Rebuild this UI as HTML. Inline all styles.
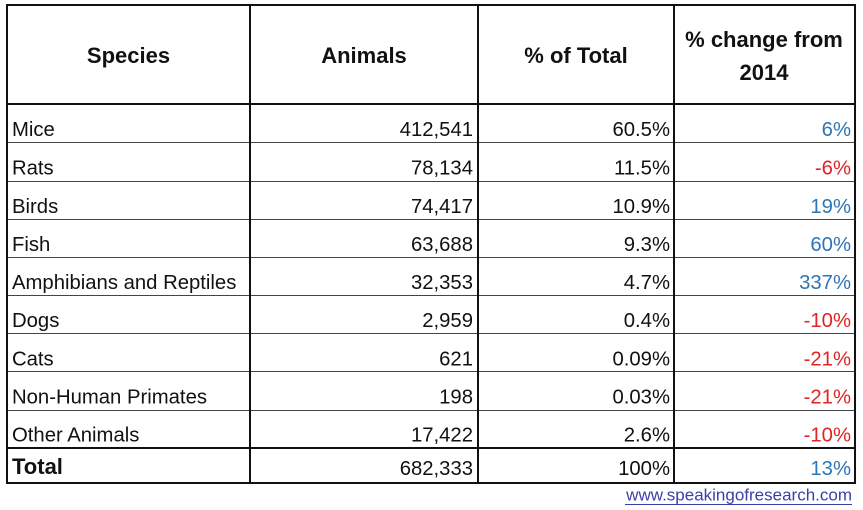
<!DOCTYPE html>
<html>
<head>
<meta charset="utf-8">
<style>
  html, body { margin: 0; padding: 0; background: #fff; }
  body { width: 863px; height: 510px; overflow: hidden; }
  svg { display: block; }
  text { font-family: "Liberation Sans", Arial, sans-serif; fill: #111; }
  .h { font-weight: bold; font-size: 22px; text-anchor: middle; }
  .l { font-size: 20.3px; }
  .r { font-size: 20.3px; text-anchor: end; }
  .b { fill: #2e75b6; }
  .red { fill: #e02424; }
</style>
</head>
<body>
<svg width="863" height="510" viewBox="0 0 863 510" xmlns="http://www.w3.org/2000/svg">
  <rect x="0" y="0" width="863" height="510" fill="#fff"/>
  <!-- thin row lines -->
  <g stroke="#444" stroke-width="1">
    <line x1="7" y1="142.5" x2="855" y2="142.5"/>
    <line x1="7" y1="181.5" x2="855" y2="181.5"/>
    <line x1="7" y1="219.5" x2="855" y2="219.5"/>
    <line x1="7" y1="257.5" x2="855" y2="257.5"/>
    <line x1="7" y1="295.5" x2="855" y2="295.5"/>
    <line x1="7" y1="333.5" x2="855" y2="333.5"/>
    <line x1="7" y1="371.5" x2="855" y2="371.5"/>
    <line x1="7" y1="410.5" x2="855" y2="410.5"/>
  </g>
  <!-- thick lines -->
  <g stroke="#111" stroke-width="2">
    <line x1="6" y1="104" x2="856" y2="104"/>
    <line x1="6" y1="448" x2="856" y2="448"/>
    <line x1="250" y1="4" x2="250" y2="484"/>
    <line x1="478" y1="4" x2="478" y2="484"/>
    <line x1="674" y1="4" x2="674" y2="484"/>
    <rect x="7" y="5" width="848" height="478" fill="none"/>
  </g>

  <!-- header -->
  <text class="h" x="128.5" y="63">Species</text>
  <text class="h" x="364" y="63">Animals</text>
  <text class="h" x="576" y="63">% of Total</text>
  <text class="h" x="764" y="47">% change from</text>
  <text class="h" x="764" y="80">2014</text>

  <!-- rows -->
  <text class="l" x="12" y="136">Mice</text>
  <text class="r" x="473" y="136">412,541</text>
  <text class="r" x="670" y="136">60.5%</text>
  <text class="r b" x="851" y="136">6%</text>

  <text class="l" x="12" y="174.5">Rats</text>
  <text class="r" x="473" y="174.5">78,134</text>
  <text class="r" x="670" y="174.5">11.5%</text>
  <text class="r red" x="851" y="174.5">-6%</text>

  <text class="l" x="12" y="213">Birds</text>
  <text class="r" x="473" y="213">74,417</text>
  <text class="r" x="670" y="213">10.9%</text>
  <text class="r b" x="851" y="213">19%</text>

  <text class="l" x="12" y="251">Fish</text>
  <text class="r" x="473" y="251">63,688</text>
  <text class="r" x="670" y="251">9.3%</text>
  <text class="r b" x="851" y="251">60%</text>

  <text class="l" x="12" y="289">Amphibians and Reptiles</text>
  <text class="r" x="473" y="289">32,353</text>
  <text class="r" x="670" y="289">4.7%</text>
  <text class="r b" x="851" y="289">337%</text>

  <text class="l" x="12" y="327">Dogs</text>
  <text class="r" x="473" y="327">2,959</text>
  <text class="r" x="670" y="327">0.4%</text>
  <text class="r red" x="851" y="327">-10%</text>

  <text class="l" x="12" y="365.5">Cats</text>
  <text class="r" x="473" y="365.5">621</text>
  <text class="r" x="670" y="365.5">0.09%</text>
  <text class="r red" x="851" y="365.5">-21%</text>

  <text class="l" x="12" y="403.5">Non-Human Primates</text>
  <text class="r" x="473" y="403.5">198</text>
  <text class="r" x="670" y="403.5">0.03%</text>
  <text class="r red" x="851" y="403.5">-21%</text>

  <text class="l" x="12" y="441.5">Other Animals</text>
  <text class="r" x="473" y="441.5">17,422</text>
  <text class="r" x="670" y="441.5">2.6%</text>
  <text class="r red" x="851" y="441.5">-10%</text>

  <!-- total -->
  <text x="12" y="474" style="font-weight:bold;font-size:22px;">Total</text>
  <text class="r" x="473" y="475">682,333</text>
  <text class="r" x="670" y="475">100%</text>
  <text class="r b" x="851" y="475">13%</text>

  <!-- link -->
  <text x="852" y="500.5" style="font-size:17px;text-anchor:end;fill:#3b3fa8;">www.speakingofresearch.com</text>
  <line x1="625" y1="504.5" x2="852" y2="504.5" stroke="#3b3fa8" stroke-width="1"/>
</svg>
</body>
</html>
